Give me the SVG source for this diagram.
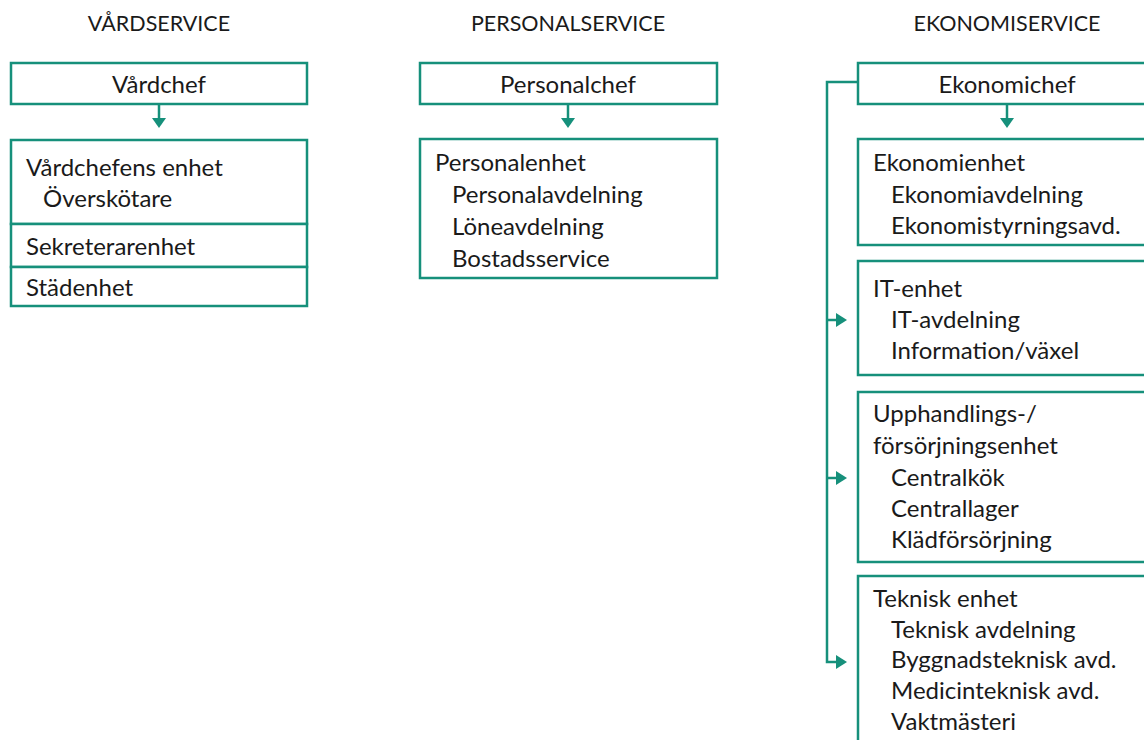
<svg xmlns="http://www.w3.org/2000/svg" width="1144" height="740" viewBox="0 0 1144 740">
  <style>
    .box { fill: #ffffff; stroke: #16907b; stroke-width: 2.5; }
    .wire { fill: none; stroke: #16907b; stroke-width: 2.5; }
    .head { fill: #16907b; stroke: none; }
    text { font-family: Lato, "Open Sans", "Liberation Sans", sans-serif; fill: #1a1a1a; }
    .title { font-size: 21.5px; text-anchor: middle; }
    .label { font-size: 24px; }
    .mid { text-anchor: middle; }
  </style>
  <rect width="1144" height="740" fill="#ffffff"/>

  <!-- column headings -->
  <text class="title" x="159" y="31">VÅRDSERVICE</text>
  <text class="title" x="568" y="31">PERSONALSERVICE</text>
  <text class="title" x="1007" y="31">EKONOMISERVICE</text>

  <!-- connectors -->
  <g id="connectors">
    <line class="wire" x1="159" y1="104" x2="159" y2="119"/>
    <polygon class="head" points="152,118 166,118 159,128"/>
    <line class="wire" x1="568" y1="104" x2="568" y2="119"/>
    <polygon class="head" points="561,118 575,118 568,128"/>
    <line class="wire" x1="1007" y1="104" x2="1007" y2="119"/>
    <polygon class="head" points="1000,118 1014,118 1007,128"/>
    <!-- side bus from Ekonomichef -->
    <polyline class="wire" points="858,82 827,82 827,662 837,662"/>
    <line class="wire" x1="827" y1="320" x2="837" y2="320"/>
    <line class="wire" x1="827" y1="478" x2="837" y2="478"/>
    <polygon class="head" points="836,313 847,320 836,327"/>
    <polygon class="head" points="836,471 847,478 836,485"/>
    <polygon class="head" points="836,655 847,662 836,669"/>
  </g>

  <!-- Vårdservice -->
  <g id="vardchef">
    <rect class="box" x="11" y="63" width="296" height="41"/>
    <text class="label mid" x="159" y="93">Vårdchef</text>
  </g>
  <g id="vardchefens-enhet">
    <rect class="box" x="11" y="140" width="296" height="84"/>
    <text class="label" x="26" y="176">Vårdchefens enhet</text>
    <text class="label" x="43" y="207">Överskötare</text>
  </g>
  <g id="sekreterarenhet">
    <rect class="box" x="11" y="224" width="296" height="43"/>
    <text class="label" x="26" y="255">Sekreterarenhet</text>
  </g>
  <g id="stadenhet">
    <rect class="box" x="11" y="267" width="296" height="39"/>
    <text class="label" x="26" y="296">Städenhet</text>
  </g>

  <!-- Personalservice -->
  <g id="personalchef">
    <rect class="box" x="420" y="63" width="297" height="41"/>
    <text class="label mid" x="568" y="93">Personalchef</text>
  </g>
  <g id="personalenhet">
    <rect class="box" x="420" y="139" width="297" height="139"/>
    <text class="label" x="435" y="171">Personalenhet</text>
    <text class="label" x="452" y="203">Personalavdelning</text>
    <text class="label" x="452" y="235">Löneavdelning</text>
    <text class="label" x="452" y="267">Bostadsservice</text>
  </g>

  <!-- Ekonomiservice -->
  <g id="ekonomichef">
    <rect class="box" x="858" y="63" width="298" height="41"/>
    <text class="label mid" x="1007" y="93">Ekonomichef</text>
  </g>
  <g id="ekonomienhet">
    <rect class="box" x="858" y="139" width="298" height="106"/>
    <text class="label" x="873" y="171">Ekonomienhet</text>
    <text class="label" x="891" y="203">Ekonomiavdelning</text>
    <text class="label" x="891" y="234">Ekonomistyrningsavd.</text>
  </g>
  <g id="it-enhet">
    <rect class="box" x="858" y="261" width="298" height="114"/>
    <text class="label" x="873" y="297">IT-enhet</text>
    <text class="label" x="891" y="328">IT-avdelning</text>
    <text class="label" x="891" y="359">Information/växel</text>
  </g>
  <g id="upphandlingsenhet">
    <rect class="box" x="858" y="392" width="298" height="170"/>
    <text class="label" x="873" y="422">Upphandlings-/</text>
    <text class="label" x="873" y="454">försörjningsenhet</text>
    <text class="label" x="891" y="486">Centralkök</text>
    <text class="label" x="891" y="517">Centrallager</text>
    <text class="label" x="891" y="548">Klädförsörjning</text>
  </g>
  <g id="teknisk-enhet">
    <rect class="box" x="858" y="576" width="298" height="180"/>
    <text class="label" x="873" y="607">Teknisk enhet</text>
    <text class="label" x="891" y="638">Teknisk avdelning</text>
    <text class="label" x="891" y="668">Byggnadsteknisk avd.</text>
    <text class="label" x="891" y="699">Medicinteknisk avd.</text>
    <text class="label" x="891" y="730">Vaktmästeri</text>
  </g>
</svg>
